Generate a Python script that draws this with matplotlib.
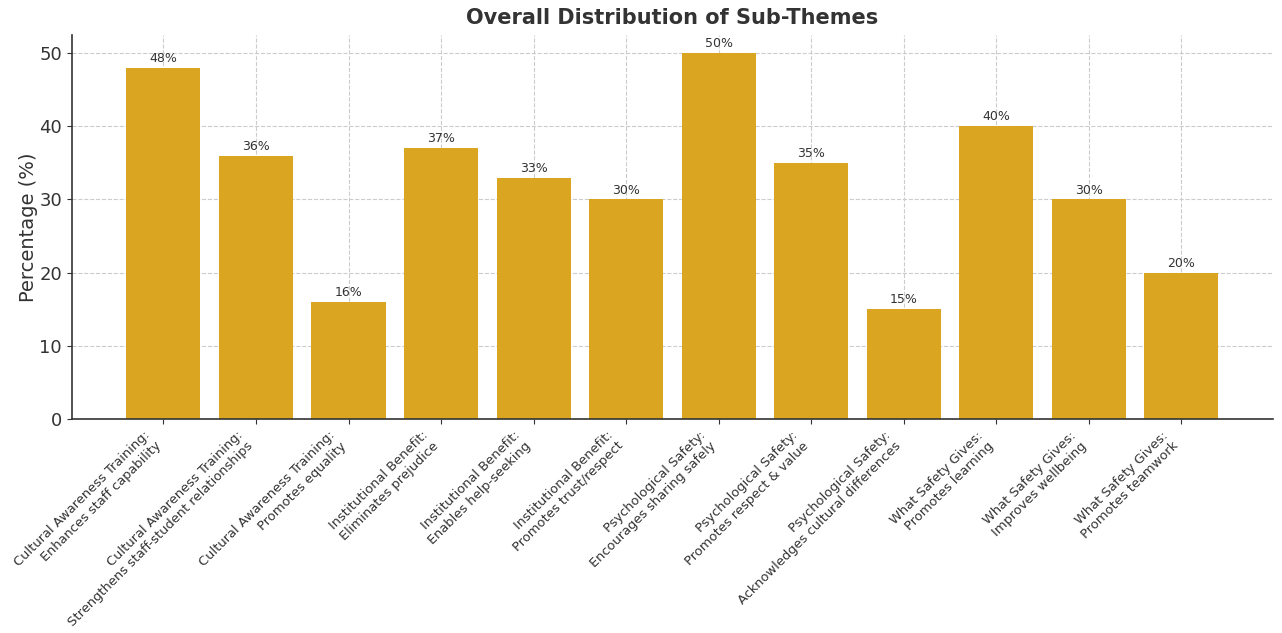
import matplotlib.pyplot as plt
import numpy as np

categories = [
    'Cultural Awareness Training:\nEnhances staff capability',
    'Cultural Awareness Training:\nStrengthens staff-student relationships',
    'Cultural Awareness Training:\nPromotes equality',
    'Institutional Benefit:\nEliminates prejudice',
    'Institutional Benefit:\nEnables help-seeking',
    'Institutional Benefit:\nPromotes trust/respect',
    'Psychological Safety:\nEncourages sharing safely',
    'Psychological Safety:\nPromotes respect & value',
    'Psychological Safety:\nAcknowledges cultural differences',
    'What Safety Gives:\nPromotes learning',
    'What Safety Gives:\nImproves wellbeing',
    'What Safety Gives:\nPromotes teamwork',
]
percentages = [48, 36, 16, 37, 33, 30, 50, 35, 15, 40, 30, 20]

text_color = '#333333'

fig = plt.figure(figsize=(12.82, 6.33), dpi=100)
ax = fig.add_axes([0.056, 0.338, 0.937, 0.607])

x = np.arange(len(categories))
bars = ax.bar(x, percentages, width=0.8, color='goldenrod', zorder=2)

for b, v in zip(bars, percentages):
    ax.text(b.get_x() + b.get_width() / 2, v + 0.4, f'{v}%', ha='center', va='bottom',
            fontsize=9, color=text_color, zorder=3)

ax.set_xticks(x)
ax.set_xticklabels(categories, rotation=45, ha='right', fontsize=9.4, color=text_color)
ax.tick_params(axis='y', labelsize=13, colors=text_color)
ax.tick_params(axis='x', colors=text_color)
ax.set_ylabel('Percentage (%)', fontsize=14, color=text_color, labelpad=1)
ax.set_title('Overall Distribution of Sub-Themes', fontsize=15, fontweight='bold',
             color=text_color, pad=8)
ax.set_ylim(0, 52.5)

ax.grid(True, linestyle='--', color='#cccccc', linewidth=0.8, zorder=0)
ax.set_axisbelow(True)
ax.spines['top'].set_visible(False)
ax.spines['right'].set_visible(False)
ax.spines['left'].set_color(text_color)
ax.spines['bottom'].set_color(text_color)
ax.spines['left'].set_linewidth(1.2)
ax.spines['bottom'].set_linewidth(1.2)

fig.savefig('out.png', dpi=100)
